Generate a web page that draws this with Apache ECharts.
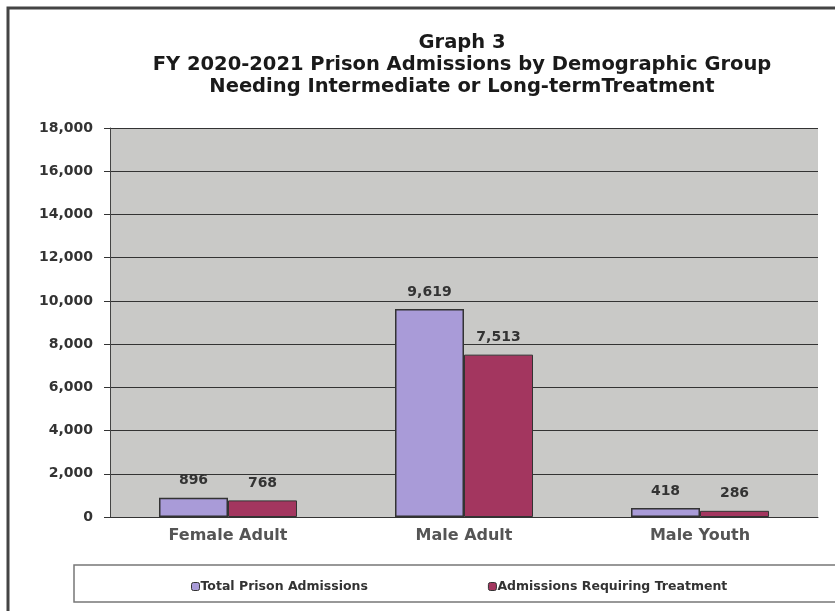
<!DOCTYPE html>
<html>
<head>
<meta charset="utf-8">
<script src="https://cdn.jsdelivr.net/npm/echarts@6/dist/echarts.min.js"></script>
<style>
  html, body {margin: 0; padding: 0; background: #fff;}
  #chart {width: 835px; height: 611px;}
</style>
</head>
<body>
<div id="chart"></div>
<script>
const categories = ['Female Adult', 'Male Adult', 'Male Youth'];
const totalAdmissions = [896, 9619, 418];
const needingTreatment = [768, 7513, 286];
const seriesNames = ['Total Prison Admissions', 'Admissions Requiring Treatment'];

const chart = echarts.init(document.getElementById('chart'));
const font = '"DejaVu Sans", Arial, sans-serif';

const labelStyle = {
  show: true,
  position: 'top',
  distance: 10,
  fontFamily: font,
  fontWeight: 'bold',
  fontSize: 14,
  color: '#333',
  formatter: p => p.value.toLocaleString('en-US')
};

chart.setOption({
  animation: false,
  backgroundColor: '#fff',
  title: {
    text: 'Graph 3\nFY 2020-2021 Prison Admissions by Demographic Group\nNeeding Intermediate or Long-termTreatment',
    left: 457,
    textAlign: 'center',
    top: 27,
    textStyle: {
      fontFamily: font,
      fontWeight: 'bold',
      fontSize: 19.5,
      lineHeight: 22,
      color: '#1a1a1a'
    }
  },
  graphic: [
    {
      type: 'rect',
      shape: {x: 8, y: 8, width: 840, height: 620},
      style: {fill: 'none', stroke: '#444', lineWidth: 3},
      silent: true
    },
    {
      type: 'rect',
      shape: {x: 74, y: 565, width: 780, height: 37},
      style: {fill: '#fff', stroke: '#777', lineWidth: 1.5},
      silent: true,
      z: 0
    }
  ],
  legend: {
    data: seriesNames,
    top: 575,
    left: 186,
    itemGap: 120,
    itemWidth: 8,
    itemHeight: 8,
    itemStyle: {borderColor: '#333', borderWidth: 1},
    textStyle: {
      fontFamily: font,
      fontWeight: 'bold',
      fontSize: 12.5,
      color: '#333',
      padding: [0, 0, 0, -4]
    },
    z: 5
  },
  grid: {
    left: 110,
    right: 17,
    top: 128,
    bottom: 94,
    show: true,
    backgroundColor: '#c9c9c7',
    borderWidth: 0
  },
  xAxis: {
    type: 'category',
    data: categories,
    axisLine: {show: true, lineStyle: {color: '#333', width: 1}},
    axisTick: {show: false},
    axisLabel: {
      fontFamily: font,
      fontWeight: 'bold',
      fontSize: 16,
      color: '#555',
      margin: 11
    }
  },
  yAxis: {
    type: 'value',
    min: 0,
    max: 18000,
    interval: 2000,
    axisLine: {show: true, lineStyle: {color: '#444', width: 1}},
    axisTick: {show: true, length: 6, lineStyle: {color: '#333'}},
    axisLabel: {
      fontFamily: font,
      fontWeight: 'bold',
      fontSize: 14,
      color: '#333',
      margin: 17,
      formatter: v => v.toLocaleString('en-US')
    },
    splitLine: {show: true, lineStyle: {color: '#333', width: 1}}
  },
  series: [
    {
      name: seriesNames[0],
      type: 'bar',
      data: totalAdmissions,
      barWidth: 69,
      barGap: '0%',
      itemStyle: {color: '#a99bd8', borderColor: '#333', borderWidth: 1.5},
      label: labelStyle
    },
    {
      name: seriesNames[1],
      type: 'bar',
      data: needingTreatment,
      barWidth: 69,
      barGap: '0%',
      itemStyle: {color: '#a3365f', borderColor: '#333', borderWidth: 1},
      label: labelStyle
    }
  ]
});
</script>
</body>
</html>
